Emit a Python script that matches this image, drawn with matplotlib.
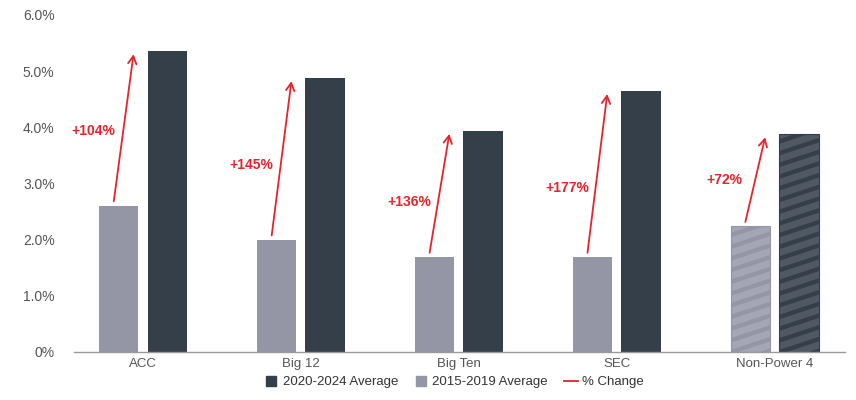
import matplotlib.pyplot as plt
import numpy as np
from matplotlib.lines import Line2D
from matplotlib.transforms import IdentityTransform

plt.rcParams["font.family"] = ["Liberation Sans", "DejaVu Sans"]

conferences = ["ACC", "Big 12", "Big Ten", "SEC", "Non-Power 4"]
avg_2015_2019 = [2.60, 1.99, 1.68, 1.68, 2.23]
avg_2020_2024 = [5.36, 4.88, 3.94, 4.65, 3.88]
pct_change = ["+104%", "+145%", "+136%", "+177%", "+72%"]
label_y = [3.93, 3.32, 2.66, 2.91, 3.06]
hatched = [False, False, False, False, True]

DARK = "#343f49"
LIGHT = "#9496a6"
DARK_HATCH_BASE = "#4f5863"
LIGHT_HATCH_BASE = "#a4a5b5"
RED = "#e8232c"
GREY_TXT = "#555555"


def add_stripes(ax, patch, color):
    # shallow diagonal stripes, drawn in pixel space and clipped to the bar
    (x0, y0), (x1, y1) = ax.transData.transform(
        [[patch.get_x(), patch.get_y()],
         [patch.get_x() + patch.get_width(), patch.get_y() + patch.get_height()]])
    slope = 0.33
    period = 11.7
    w = x1 - x0
    start = y0 - slope * w - period
    for yy in np.arange(start, y1 + period, period):
        ln = Line2D([x0 - 2, x1 + 2], [yy, yy + slope * (w + 4)], color=color,
                    lw=3.1, solid_capstyle="butt", transform=IdentityTransform())
        ax.add_artist(ln)
        ln.set_clip_path(patch)


fig = plt.figure(figsize=(8.56, 4), dpi=100)
ax = fig.add_axes([74 / 856, 1 - 351.5 / 400, (845 - 74) / 856, (351.5 - 15) / 400])

x = np.arange(len(conferences))
w = 0.25
off = 0.154

ax.set_xlim(-0.437, 4.446)
ax.set_ylim(0, 6)

for i in x:
    if hatched[i]:
        b1 = ax.bar(i - off, avg_2015_2019[i], w, color=LIGHT_HATCH_BASE,
                    edgecolor=LIGHT, linewidth=0.8)[0]
        b2 = ax.bar(i + off, avg_2020_2024[i], w, color=DARK_HATCH_BASE,
                    edgecolor=DARK, linewidth=0.8)[0]
        add_stripes(ax, b1, LIGHT)
        add_stripes(ax, b2, DARK)
    else:
        ax.bar(i - off, avg_2015_2019[i], w, color=LIGHT, linewidth=0)
        ax.bar(i + off, avg_2020_2024[i], w, color=DARK, linewidth=0)

    ax.annotate("", xy=(i - 0.06, avg_2020_2024[i] - 0.06),
                xytext=(i - 0.185, avg_2015_2019[i] + 0.08),
                arrowprops=dict(arrowstyle="->,head_length=0.55,head_width=0.3",
                                color=RED, lw=1.3, shrinkA=0, shrinkB=0))
    ax.text(i - 0.315, label_y[i], pct_change[i], color=RED, fontsize=10,
            fontweight="bold", ha="center", va="center")

ax.set_yticks(np.arange(0, 7, 1))
ax.set_yticklabels(["0%"] + [f"{v:.1f}%" for v in range(1, 7)])
ax.set_xticks(x)
ax.set_xticklabels(conferences)
ax.tick_params(axis="both", length=0, labelsize=10, labelcolor=GREY_TXT)
ax.tick_params(axis="y", pad=14)
ax.tick_params(axis="x", labelsize=9.5, pad=5)

for side in ["top", "right", "left"]:
    ax.spines[side].set_visible(False)
ax.spines["bottom"].set_color("#999999")
ax.spines["bottom"].set_linewidth(1)

handles = [
    Line2D([], [], marker="s", linestyle="none", color=DARK, markersize=7),
    Line2D([], [], marker="s", linestyle="none", color=LIGHT, markersize=7),
    Line2D([], [], color=RED, lw=1.3),
]
fig.legend(handles, ["2020-2024 Average", "2015-2019 Average", "% Change"],
           loc="center", bbox_to_anchor=(454 / 856, 1 - 382 / 400), ncol=3,
           frameon=False, fontsize=9.5, handlelength=1.1, handletextpad=0.3,
           columnspacing=1.2, labelcolor="#333333")

plt.savefig("out.png", dpi=100)
plt.close()
